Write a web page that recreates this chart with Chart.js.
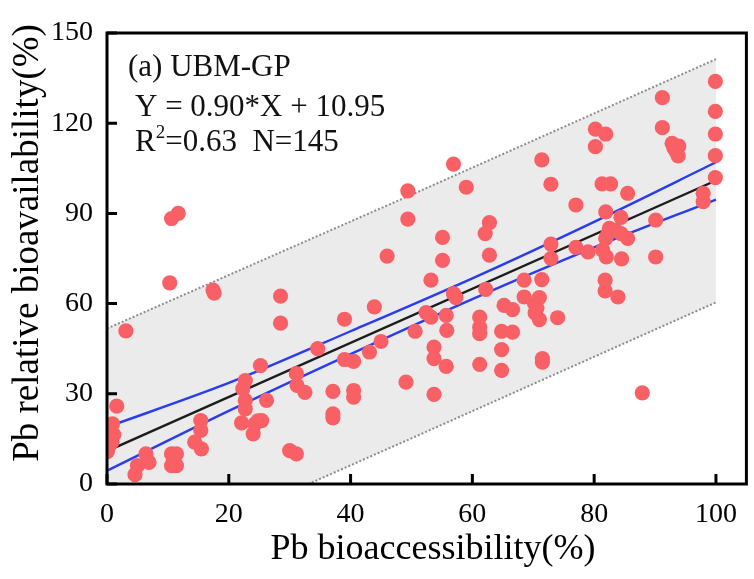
<!DOCTYPE html>
<html><head><meta charset="utf-8">
<script src="https://cdn.jsdelivr.net/npm/chart.js@4.4.1/dist/chart.umd.min.js"></script>
<style>html,body{margin:0;padding:0;background:#fff;}canvas{display:block;}</style>
</head><body>
<canvas id="c" width="754" height="579"></canvas>
<script>
// ---- data ----
const xVals = [0.05,0.8,1.1,0.9,1.6,3.1,4.6,5.0,6.4,6.9,10.3,10.6,11.7,10.6,11.4,10.6,11.4,14.4,15.5,15.4,15.4,17.4,17.6,0.4,
22.1,22.3,22.7,22.7,22.7,24.0,24.3,25.4,25.2,26.2,28.5,28.5,30.0,31.1,31.1,31.2,32.5,34.6,37.1,37.1,37.1,39.0,39.0,40.5,40.5,40.5,
43.1,43.9,45.0,46.0,49.1,49.4,49.4,50.6,52.4,53.2,53.2,53.7,53.7,53.7,55.1,55.1,55.7,55.8,55.7,56.9,56.9,57.3,59.0,
61.2,61.2,61.2,61.2,62.2,62.1,62.8,62.8,64.8,64.8,64.8,65.2,66.6,66.6,68.5,68.5,70.2,70.3,71.0,71.0,71.4,71.4,71.5,71.5,72.9,72.9,72.9,74.0,77.0,77.0,79.0,
80.2,80.2,81.9,81.3,82.7,81.9,82.5,81.9,83.5,84.4,85.5,81.4,82.0,84.5,84.4,85.5,81.8,81.8,83.9,87.9,90.1,90.1,91.2,91.2,92.8,93.9,93.1,93.8,97.9,97.9,99.9,99.9,99.9,99.9,99.9,
0.3,10.9,82.2,70.6,93.5,24.8];
const yVals = [10.8,13.9,16.4,20,25.9,50.9,3.1,6.1,10,7.2,66.9,88.3,90,10,10,6.1,6.1,13.9,11.7,21.1,17.8,64.5,63.5,15.2,
20.3,31.7,34.4,27.8,25,16.7,20,21.1,39.4,27.8,62.5,53.5,11.1,10,36.7,32.8,30.5,45,30.8,23.3,22,54.8,41.4,40.8,31.1,28.9,
43.9,58.9,47.4,75.8,33.9,97.5,88.1,50.8,57,55.5,67.8,45.5,41.7,29.8,82,74.4,56.1,51.1,39.1,106.4,63.3,62,98.7,
55.5,52.2,50,39.8,64.7,83.3,86.9,76.1,50.8,44.7,37.8,59.4,58,50.5,67.8,62.2,60,56.9,54.7,62,68,107.8,41.7,40.5,99.7,79.8,75,55.3,92.8,78.7,77.2,
118,112.2,116.4,99.8,99.8,90.5,85,81.7,84.4,83.3,81.7,77.8,75.5,74.9,88.7,96.7,67.8,64.2,62.2,30.3,87.8,75.5,128.5,118.5,113.3,112.4,111.7,109.1,96.7,93.9,133.9,123.9,116.4,109.2,101.9,
12.5,8,83,58.5,110.5,21];

const fitX = [0, 100];
const fitY = [10.95, 100.95];

const bandX   = [0, 20, 40, 60, 80, 100];
const ciUpper = [18.9, 33.6, 50.8, 68.4, 87.2, 107.0];
const ciLower = [4.4, 24.3, 43.2, 61.5, 78.7, 94.6];

const predX     = [0, 50, 100];
const predUpper = [51.7, 96.2, 141.3];
const predLower = [-29.7, 15.2, 60.4];

const xTicks = [0, 20, 40, 60, 80, 100];
const yTicks = [0, 30, 60, 90, 120, 150];

const xTitle = 'Pb bioaccessibility(%)';
const yTitle = 'Pb relative bioavailability(%)';
const panelLabel = '(a) UBM-GP';
const equationText = 'Y = 0.90*X + 10.95';
const r2Value = '0.63';
const nValue = '145';

// ---- chart ----
const SERIF = '"Liberation Serif", "Times New Roman", serif';
const pts = (xs, ys) => xs.map((x, i) => ({x: x, y: ys[i]}));

const framePlugin = {
  id: 'framePlugin',
  afterDraw(chart) {
    const ctx = chart.ctx, a = chart.chartArea;
    const xs = chart.scales.x, ys = chart.scales.y;
    ctx.save();
    ctx.strokeStyle = '#000';
    ctx.lineWidth = 3;
    ctx.strokeRect(a.left, a.top, a.right - a.left, a.bottom - a.top);
    ctx.beginPath();
    xs.ticks.forEach(t => { const p = xs.getPixelForValue(t.value); ctx.moveTo(p, a.bottom); ctx.lineTo(p, a.bottom - 10); });
    ys.ticks.forEach(t => { const p = ys.getPixelForValue(t.value); ctx.moveTo(a.left, p); ctx.lineTo(a.left + 10, p); });
    ctx.stroke();

    ctx.fillStyle = '#111';
    ctx.textAlign = 'left';
    ctx.textBaseline = 'alphabetic';
    ctx.font = '31px ' + SERIF;
    ctx.fillText(panelLabel, 128, 76);
    ctx.fillText(equationText, 135, 116);
    let x0 = 135;
    ctx.fillText('R', x0, 151);
    x0 += ctx.measureText('R').width;
    ctx.font = '19px ' + SERIF;
    ctx.fillText('2', x0, 138);
    x0 += ctx.measureText('2').width;
    ctx.font = '31px ' + SERIF;
    ctx.fillText('=' + r2Value + '  N=' + nValue, x0, 151);

    // axis titles
    ctx.fillStyle = '#000';
    ctx.textAlign = 'center';
    ctx.textBaseline = 'middle';
    ctx.font = '36px ' + SERIF;
    ctx.fillText(xTitle, 433, 550);
    ctx.save();
    ctx.translate(28, 243);
    ctx.rotate(-Math.PI / 2);
    ctx.font = '37px ' + SERIF;
    ctx.fillText(yTitle, 0, 0);
    ctx.restore();
    ctx.restore();
  }
};

new Chart(document.getElementById('c'), {
  type: 'scatter',
  data: {
    datasets: [
      { type: 'scatter', data: pts(xVals, yVals), backgroundColor: 'rgb(249,96,102)', borderWidth: 0, pointRadius: 7.6, order: 0 },
      { type: 'line', data: pts(fitX, fitY), borderColor: '#1c1c1c', borderWidth: 2.4, pointRadius: 0, fill: false, order: 1 },
      { type: 'line', data: pts(bandX, ciUpper), borderColor: '#2a3cf2', borderWidth: 2.4, pointRadius: 0, fill: false, tension: 0.3, order: 1 },
      { type: 'line', data: pts(bandX, ciLower), borderColor: '#2a3cf2', borderWidth: 2.4, pointRadius: 0, fill: false, tension: 0.3, order: 1 },
      { type: 'line', data: pts(predX, predUpper), borderColor: '#8c8c8c', borderDash: [2, 2], borderWidth: 2, pointRadius: 0, fill: '+1', backgroundColor: '#ebebeb', order: 3 },
      { type: 'line', data: pts(predX, predLower), borderColor: '#8c8c8c', borderDash: [2, 2], borderWidth: 2, pointRadius: 0, fill: false, order: 2 }
    ]
  },
  options: {
    responsive: false,
    animation: false,
    devicePixelRatio: 1,
    layout: { padding: { top: 33, right: 6, left: 0, bottom: 0 } },
    plugins: { legend: { display: false }, tooltip: { enabled: false } },
    scales: {
      x: {
        type: 'linear', min: 0, max: 105,
        grid: { display: false }, border: { display: false },
        afterBuildTicks: s => { s.ticks = xTicks.map(v => ({value: v})); },
        afterFit: s => { s.height = 95; },
        ticks: { font: { family: SERIF, size: 28 }, color: '#000', padding: 6, maxRotation: 0 }
      },
      y: {
        type: 'linear', min: 0, max: 150,
        grid: { display: false }, border: { display: false },
        afterBuildTicks: s => { s.ticks = yTicks.map(v => ({value: v})); },
        afterFit: s => { s.width = 107; },
        ticks: { font: { family: SERIF, size: 28 }, color: '#000', padding: 6 }
      }
    }
  },
  plugins: [framePlugin]
});
</script>
</body></html>
